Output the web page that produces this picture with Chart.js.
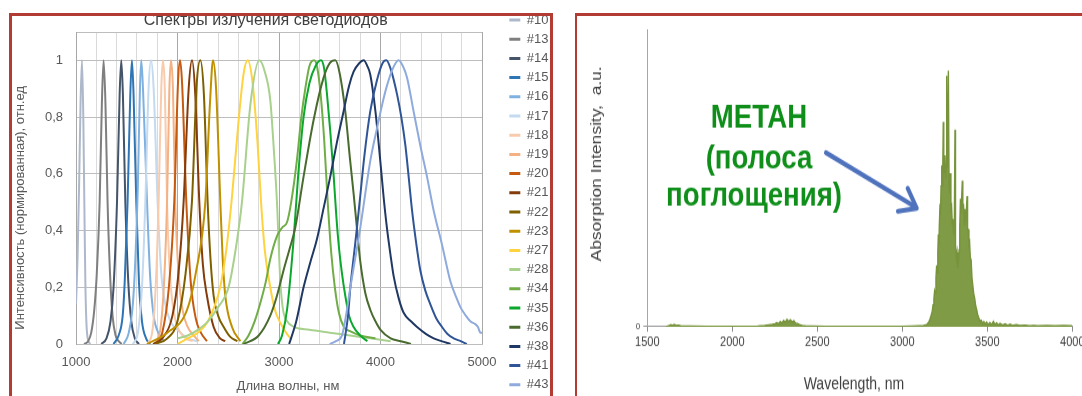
<!DOCTYPE html>
<html><head><meta charset="utf-8">
<script src="https://cdn.jsdelivr.net/npm/chart.js@4.4.1/dist/chart.umd.min.js"></script>
<style>
html,body{margin:0;padding:0;background:#fff;overflow:hidden;width:1082px;height:396px;position:relative;}
#left{position:absolute;left:0;top:0;}
#right{position:absolute;left:578px;top:16px;transform:scaleY(1.2);transform-origin:0 0;}
.frame{position:absolute;box-sizing:border-box;border-style:solid;border-color:#b23b34;}
</style></head><body>
<canvas id="left" width="560" height="400"></canvas>
<canvas id="right" width="504" height="317"></canvas>
<div class="frame" style="left:8.5px;top:13px;width:544px;height:400px;border-width:3px 3px 0 3px;"></div>
<div class="frame" style="left:575px;top:13px;width:520px;height:400px;border-width:3px 0 0 2.5px;"></div>
<script>
// ---------- LEFT CHART DATA: LED emission spectra (nm, normalised intensity) ----------
const ledNames = ['#10','#13','#14','#15','#16','#17','#18','#19','#20','#21','#22','#23','#27','#28','#34','#35','#36','#38','#41','#43'];
const ledColors = ['#adb9ca','#7f7f7f','#44546a','#2e75b6','#7fb1e0','#c3daf0','#f8cbad','#f4b183','#c55a11','#843c0c','#7f6000','#bf9000','#ffd23f','#a9d18e','#70ad47','#0ca82e','#4a6b2f','#203864','#2f5597','#8faadc'];
const led10 = [[1000,0.14],[1015,0.3],[1030,0.55],[1045,0.85],[1059,1],[1072,0.8],[1082,0.5],[1092,0.22],[1102,0.08],[1115,0.02],[1140,0]];
const led13 = [[1080,0],[1120,0.01],[1150,0.04],[1180,0.12],[1205,0.25],[1233,0.5],[1255,0.85],[1272,1],[1290,0.85],[1311,0.5],[1335,0.25],[1360,0.1],[1390,0.03],[1420,0.01],[1450,0]];
const led14 = [[1250,0],[1300,0.02],[1340,0.08],[1370,0.2],[1404,0.5],[1430,0.88],[1446,1],[1462,0.88],[1486,0.5],[1515,0.22],[1545,0.08],[1580,0.02],[1620,0]];
const led15 = [[1370,0],[1420,0.03],[1460,0.1],[1480,0.22],[1508,0.5],[1535,0.88],[1551,1],[1567,0.88],[1594,0.5],[1620,0.22],[1650,0.08],[1690,0.02],[1730,0]];
const led16 = [[1470,0],[1520,0.04],[1560,0.14],[1585,0.3],[1609,0.55],[1630,0.9],[1643,1],[1660,0.9],[1700,0.5],[1730,0.24],[1765,0.1],[1810,0.04],[1870,0.01]];
const led17 = [[1560,0],[1610,0.04],[1650,0.2],[1683,0.5],[1715,0.9],[1739,1],[1765,0.9],[1804,0.5],[1840,0.25],[1880,0.14],[1930,0.08],[2000,0.05],[2100,0.02],[2200,0.01]];
const led18 = [[1700,0],[1750,0.04],[1785,0.2],[1814,0.5],[1840,0.9],[1857,1],[1875,0.9],[1897,0.5],[1925,0.25],[1960,0.12],[2000,0.06],[2080,0.02],[2150,0.01]];
const led19 = [[1770,0],[1830,0.05],[1868,0.22],[1897,0.5],[1920,0.9],[1936,1],[1955,0.9],[1978,0.5],[2010,0.25],[2050,0.12],[2100,0.06],[2160,0.03],[2210,0.01]];
const led20 = [[1780,0],[1850,0.04],[1915,0.2],[1968,0.5],[2005,0.92],[2025,1],[2045,0.92],[2087,0.5],[2130,0.22],[2180,0.09],[2230,0.04],[2290,0.01]];
const led21 = [[1760,0],[1850,0.02],[1950,0.1],[2010,0.25],[2060,0.5],[2110,0.9],[2143,1],[2175,0.88],[2215,0.5],[2250,0.28],[2290,0.17],[2356,0.06],[2420,0.02],[2470,0.01]];
const led22 = [[1780,0],[1900,0.02],[2000,0.08],[2080,0.25],[2142,0.5],[2190,0.92],[2225,1],[2260,0.88],[2297,0.5],[2325,0.3],[2356,0.17],[2400,0.1],[2455,0.06],[2520,0.025],[2590,0.01]];
const led23 = [[1700,0],[1900,0.04],[2094,0.12],[2180,0.25],[2274,0.5],[2320,0.85],[2350,1],[2380,0.9],[2422,0.5],[2445,0.3],[2471,0.17],[2537,0.06],[2619,0.01]];
const led27 = [[2000,0],[2100,0.02],[2200,0.04],[2300,0.08],[2420,0.2],[2480,0.33],[2537,0.52],[2600,0.78],[2650,0.95],[2691,1],[2740,0.92],[2790,0.7],[2823,0.5],[2860,0.33],[2914,0.2],[2960,0.12],[3020,0.07],[3070,0.04],[3111,0.02]];
const led28 = [[2000,0.02],[2100,0.03],[2200,0.05],[2300,0.08],[2400,0.13],[2503,0.2],[2580,0.35],[2635,0.5],[2720,0.85],[2806,1],[2860,0.96],[2914,0.86],[2950,0.68],[2980,0.5],[3013,0.22],[3040,0.12],[3080,0.08],[3150,0.06],[3300,0.05],[3500,0.04],[3700,0.03],[3900,0.02],[4000,0.015],[4100,0.01]];
const led34 = [[2640,0],[2700,0.03],[2760,0.08],[2820,0.15],[2870,0.22],[2914,0.3],[2980,0.38],[3030,0.41],[3080,0.43],[3120,0.5],[3177,0.65],[3220,0.8],[3259,0.9],[3300,0.98],[3345,1],[3374,0.98],[3410,0.88],[3445,0.72],[3480,0.5],[3515,0.32],[3550,0.2],[3590,0.11],[3640,0.06],[3700,0.045],[3800,0.03],[3950,0.02]];
const led35 = [[2990,0],[3030,0.03],[3079,0.12],[3140,0.35],[3190,0.6],[3242,0.8],[3300,0.92],[3360,0.98],[3414,1],[3445,0.97],[3473,0.88],[3505,0.75],[3539,0.59],[3565,0.45],[3588,0.35],[3620,0.25],[3653,0.17],[3690,0.1],[3735,0.06],[3800,0.03],[3870,0.01]];
const led36 = [[2650,0],[2800,0.03],[2914,0.1],[2980,0.17],[3045,0.26],[3100,0.33],[3160,0.41],[3242,0.59],[3341,0.79],[3440,0.94],[3500,0.99],[3555,1],[3600,0.95],[3653,0.82],[3700,0.65],[3735,0.53],[3770,0.4],[3801,0.29],[3850,0.18],[3900,0.12],[3950,0.08],[4000,0.05],[4100,0.02],[4200,0.01],[4300,0]];
const led38 = [[3100,0],[3170,0.08],[3242,0.2],[3310,0.29],[3374,0.37],[3440,0.48],[3505,0.59],[3570,0.71],[3636,0.82],[3690,0.91],[3735,0.96],[3790,0.99],[3834,1],[3870,0.98],[3899,0.95],[3950,0.82],[3998,0.645],[4030,0.52],[4063,0.41],[4100,0.31],[4129,0.24],[4180,0.16],[4228,0.11],[4300,0.08],[4360,0.06],[4450,0.035],[4524,0.02],[4600,0.01],[4690,0]];
const led41 = [[3640,0],[3680,0.1],[3703,0.2],[3740,0.32],[3768,0.41],[3800,0.52],[3840,0.66],[3899,0.82],[3965,0.93],[4020,0.99],[4057,1],[4100,0.97],[4163,0.88],[4205,0.8],[4245,0.7],[4280,0.58],[4311,0.47],[4350,0.36],[4392,0.26],[4440,0.19],[4491,0.14],[4550,0.09],[4606,0.06],[4660,0.035],[4721,0.02],[4790,0.01],[4850,0]];
const led43 = [[3500,0],[3560,0.01],[3620,0.03],[3660,0.1],[3703,0.2],[3750,0.3],[3801,0.41],[3850,0.53],[3899,0.645],[3965,0.76],[4020,0.85],[4063,0.91],[4120,0.97],[4178,1],[4220,0.98],[4261,0.94],[4326,0.82],[4392,0.7],[4458,0.59],[4524,0.47],[4606,0.35],[4689,0.22],[4740,0.17],[4787,0.13],[4840,0.1],[4885,0.08],[4934,0.07],[4960,0.06],[4984,0.04],[5000,0.04]];
const ledSeries = [led10,led13,led14,led15,led16,led17,led18,led19,led20,led21,led22,led23,led27,led28,led34,led35,led36,led38,led41,led43];
const leftXGrid = [1000,1200,1400,1600,1800,2000,2200,2400,2600,2800,3000,3200,3400,3600,3800,4000,4200,4400,4600,4800,5000];
const leftYTicks = [0,0.2,0.4,0.6,0.8,1,1.1];

// ---------- RIGHT CHART DATA: methane absorption ----------
const methaneNm = [1610,1625,1638,1648,1658,1670,1684,1700,1750,1850,1950,2050,2150,2190,2215,2235,2252,2262,2272,2282,2292,2302,2312,2322,2332,2342,2352,2362,2372,2382,2395,2410,2430,2470,2550,2700,2850,3000,3060,3100,3125,
3143,3150,3157,3163,3170,3176,3181,3186,3190,3194,3198,3202,3205,3209,3212,3215,3218,3222,3225,3228,3232,3235,3238,3241,3244,3248,3251,3255,3258,3261,3264,3267,3271,3275,3279,3283,3286,3290,3294,3298,3302,3306,3310,3313,3318,3322,3326,3330,3334,3338,3342,3345,3349,3353,3356,3360,3364,3368,3372,3376,3381,3384,3388,3392,3396,3400,3405,3410,3415,3420,3426,3432,3438,3444,3450,3457,3465,3472,3480,3488,3496,3505,3515,3525,3536,3545,3555,3566,3575,3590,3605,3620,3634,3650,3670,3692,3720,3750,3771,3800,3850,3900,3950,4000];
const methaneAbs = [0,0.003,0.008,0.005,0.009,0.005,0.006,0.002,0.002,0.001,0.001,0.001,0.002,0.004,0.007,0.009,0.012,0.016,0.011,0.02,0.014,0.024,0.017,0.028,0.02,0.027,0.018,0.023,0.014,0.013,0.008,0.005,0.003,0.002,0.001,0.001,0.001,0.001,0.002,0.003,0.004,
0.008,0.013,0.02,0.03,0.045,0.06,0.085,0.11,0.14,0.13,0.19,0.24,0.21,0.29,0.36,0.32,0.4,0.48,0.44,0.55,0.63,0.55,0.61,0.8,0.6,0.63,0.67,0.58,0.62,0.98,0.63,0.64,1.0,0.57,0.52,0.6,0.46,0.47,0.4,0.42,0.36,0.39,0.77,0.32,0.27,0.29,0.23,0.25,0.3,0.39,0.5,0.44,0.5,0.57,0.46,0.48,0.4,0.46,0.41,0.44,0.51,0.38,0.38,0.32,0.33,0.27,0.26,0.19,0.19,0.13,0.11,0.08,0.065,0.045,0.035,0.022,0.025,0.012,0.02,0.01,0.018,0.008,0.016,0.008,0.02,0.008,0.015,0.006,0.013,0.006,0.011,0.005,0.01,0.004,0.008,0.004,0.006,0.003,0.005,0.003,0.004,0.003,0.004,0.003];
const rightXTicks = [1500,2000,2500,3000,3500,4000];
const noteLines = [
  {text:'МЕТАН', nm:2157, v:0.78},
  {text:'(полоса', nm:2157, v:0.62},
  {text:'поглощения)', nm:2128, v:0.475}
];
const arrowFrom = {nm:2551, v:0.68};
const arrowTo = {nm:3085, v:0.4625};

const FONT = "'Liberation Sans', Arial, sans-serif";
const NB = '\u00a0';

// ---------- LEFT CHART ----------
const N = ledSeries.length;
new Chart(document.getElementById('left'), {
  type: 'line',
  data: {
    datasets: ledSeries.map((pts, i) => ({
      label: ledNames[i],
      data: pts.map(([x, y]) => ({x, y})),
      borderColor: ledColors[i],
      backgroundColor: ledColors[i],
      borderWidth: 2,
      pointRadius: 0,
      cubicInterpolationMode: 'monotone',
      fill: false,
      order: N - i
    }))
  },
  options: {
    responsive: false, animation: false, devicePixelRatio: 1,
    layout: {padding: {left: 10, right: 1.5, top: 7.3, bottom: 0}},
    plugins: {
      tooltip: {enabled: false},
      title: {display: true, fullSize: false, text: 'Спектры излучения светодиодов' + NB.repeat(6),
        font: {family: FONT, size: 16, weight: 'normal'}, color: '#404040', padding: {top: 4.1, bottom: 1.4}},
      legend: {position: 'right', align: 'start',
        labels: {boxWidth: 11, boxHeight: 3, padding: 6.2, color: '#595959', font: {family: FONT, size: 13},
          sort: (a, b) => a.datasetIndex - b.datasetIndex,
          generateLabels: chart => Chart.defaults.plugins.legend.labels.generateLabels(chart).map(l => Object.assign(l, {lineWidth: 0}))}}
    },
    scales: {
      x: {type: 'linear', min: 1000, max: 5000,
        afterBuildTicks: ax => { ax.ticks = leftXGrid.map(v => ({value: v})); },
        ticks: {autoSkip: false, maxRotation: 0, padding: 10.7, color: '#595959', font: {family: FONT, size: 13},
          callback: v => (v % 1000 === 0 ? String(v) : '')},
        grid: {drawTicks: false, color: c => (c.tick && c.tick.value % 1000 === 0 ? '#a8a8a8' : '#dadada')},
        border: {color: '#bdbdbd'},
        title: {display: true, text: NB.repeat(5) + 'Длина волны, нм', color: '#595959', font: {family: FONT, size: 13}, padding: {top: 0, bottom: 6.2}},
        afterFit: s => { s.height = 56; s.paddingLeft = 0; s.paddingRight = 0; }
      },
      y: {min: 0, max: 1.1,
        afterBuildTicks: ax => { ax.ticks = leftYTicks.map(v => ({value: v})); },
        ticks: {padding: 13, color: '#595959', font: {family: FONT, size: 13},
          callback: v => (v > 1.05 ? '' : String(v).replace('.', ','))},
        grid: {drawTicks: false, color: '#bdbdbd'},
        border: {color: '#a8a8a8'},
        title: {display: true, text: 'Интенсивность (нормированная), отн.ед' + NB.repeat(11), color: '#595959', font: {family: FONT, size: 13}, padding: {top: 2.2, bottom: 0}},
        afterFit: s => { s.width = 66; s.paddingTop = 0; s.paddingBottom = 0; }
      },
      yR: {type: 'linear', position: 'right', display: true,
        ticks: {display: false}, grid: {display: false}, border: {display: false},
        afterFit: s => { s.width = 21.1; }
      }
    }
  }
});

// ---------- RIGHT CHART ----------
const annotate = {
  id: 'annotate',
  afterDraw(chart) {
    const {ctx, scales: {x, y}} = chart;
    ctx.save();
    ctx.fillStyle = '#0f8f1a';
    ctx.font = "bold 27.6px " + FONT;
    ctx.textAlign = 'center';
    ctx.textBaseline = 'alphabetic';
    noteLines.forEach(l => ctx.fillText(l.text, x.getPixelForValue(l.nm), y.getPixelForValue(l.v)));
    const x1 = x.getPixelForValue(arrowFrom.nm), y1 = y.getPixelForValue(arrowFrom.v);
    const x2 = x.getPixelForValue(arrowTo.nm), y2 = y.getPixelForValue(arrowTo.v);
    ctx.strokeStyle = '#4f72bd';
    ctx.lineWidth = 4;
    ctx.lineCap = 'round';
    ctx.lineJoin = 'round';
    ctx.beginPath(); ctx.moveTo(x1, y1); ctx.lineTo(x2 - 3, y2 - 2); ctx.stroke();
    const ang = Math.atan2(y1 - y2, x1 - x2);
    const len = 19, spread = 0.6;
    ctx.beginPath();
    ctx.moveTo(x2 + len * Math.cos(ang - spread), y2 + len * Math.sin(ang - spread));
    ctx.lineTo(x2, y2);
    ctx.lineTo(x2 + len * Math.cos(ang + spread), y2 + len * Math.sin(ang + spread));
    ctx.stroke();
    ctx.restore();
  }
};

new Chart(document.getElementById('right'), {
  type: 'line',
  data: {
    datasets: [{
      label: 'CH4',
      data: methaneNm.map((x, i) => ({x, y: methaneAbs[i]})),
      borderColor: '#77933c',
      backgroundColor: '#7f9b45',
      borderWidth: 1.4,
      pointRadius: 0,
      tension: 0,
      fill: 'origin'
    }]
  },
  options: {
    responsive: false, animation: false, devicePixelRatio: 1,
    layout: {padding: {left: 0, right: 9.7, top: 11.67, bottom: 0}},
    plugins: {legend: {display: false}, title: {display: false}, tooltip: {enabled: false}},
    scales: {
      x: {type: 'linear', min: 1500, max: 4000,
        afterBuildTicks: ax => { ax.ticks = rightXTicks.map(v => ({value: v})); },
        ticks: {autoSkip: false, maxRotation: 0, padding: 2, color: '#404040', font: {family: FONT, size: 11},
          callback: v => String(v)},
        grid: {drawOnChartArea: false, drawTicks: true, tickLength: 4.2, color: '#8c8c8c'},
        border: {color: '#9a9a9a'},
        title: {display: true, text: 'Wavelength, nm' + NB.repeat(3), color: '#404040', font: {family: FONT, size: 14}, padding: {top: 0, bottom: 1.1}},
        afterFit: s => { s.height = 58.1; s.paddingLeft = 0; s.paddingRight = 0; }
      },
      y: {min: 0, max: 1.159,
        afterBuildTicks: ax => { ax.ticks = [{value: 0}]; },
        ticks: {padding: 3, color: '#404040', font: {family: FONT, size: 8}, callback: v => String(v)},
        grid: {drawOnChartArea: false, drawTicks: true, tickLength: 4, color: '#9a9a9a'},
        border: {color: '#a6a6a6'},
        title: {display: true, text: NB.repeat(6) + 'Absorption Intensity,  a.u.', color: '#404040', font: {family: FONT, size: 14.5}, padding: {top: 9.8, bottom: 0}},
        afterFit: s => { s.width = 69.3; s.paddingTop = 0; s.paddingBottom = 0; }
      }
    }
  },
  plugins: [annotate]
});
</script>
</body></html>
